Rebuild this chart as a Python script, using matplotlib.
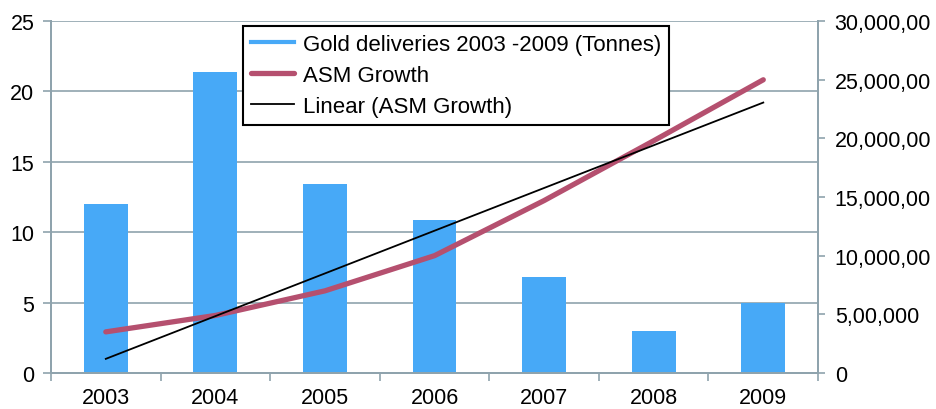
import numpy as np
import matplotlib.pyplot as plt
import matplotlib.lines as mlines
from matplotlib.ticker import FixedLocator

# values
years = ['2003', '2004', '2005', '2006', '2007', '2008', '2009']
gold_tonnes = [12.0, 21.4, 13.4, 10.9, 6.8, 3.0, 5.0]
asm_growth = [350000, 490000, 700000, 1000000, 1470000, 1980000, 2500000]
right_ticks = [0, 500000, 1000000, 1500000, 2000000, 2500000, 3000000]
right_labels = ['0', '5,00,000', '10,000,00', '15,000,00', '20,000,00',
                '25,000,00', '30,000,00']

plt.rcParams['font.family'] = ['Liberation Sans', 'DejaVu Sans']

bar_color = '#47a9f7'
asm_color = '#b5506f'
axis_color = '#8fa3ad'


def main():
    fig = plt.figure(figsize=(9.36, 4.10), dpi=100)
    ax = fig.add_axes([0.0545, 0.088, 0.8195, 0.858])
    ax2 = ax.twinx()

    x = np.arange(len(years))
    ax.bar(x, gold_tonnes, width=0.4, color=bar_color, zorder=2,
           label='Gold deliveries 2003 -2009 (Tonnes)')

    # linear trend of the ASM series, as Excel would add it
    slope, intercept = np.polyfit(x, asm_growth, 1)
    trend = slope * x + intercept
    ax2.plot(x, asm_growth, color=asm_color, lw=3.8, solid_capstyle='round',
             solid_joinstyle='round', label='ASM Growth', zorder=3)
    ax2.plot(x, trend, color='black', lw=1.3, label='Linear (ASM Growth)',
             zorder=4)

    ax.set_xlim(-0.5, len(years) - 0.5)
    ax.set_ylim(0, 25)
    ax.set_yticks([0, 5, 10, 15, 20, 25])
    ax2.set_ylim(0, 3000000)
    ax2.set_yticks(right_ticks)
    ax2.set_yticklabels(right_labels)

    ax.set_xticks(x)
    ax.set_xticklabels(years)
    ax.xaxis.set_minor_locator(FixedLocator(np.arange(-0.5, len(years), 1.0)))
    ax.tick_params(axis='x', which='major', length=0, pad=10, labelsize=15.5)
    ax.tick_params(axis='x', which='minor', length=6, width=1.2,
                   color=axis_color)
    ax.tick_params(axis='y', length=6, width=1.2, color=axis_color,
                   labelsize=15.5, pad=6)
    ax2.tick_params(axis='y', length=5, width=1.2, color=axis_color,
                    labelsize=15.5, pad=7)

    ax.grid(axis='y', color=axis_color, lw=1.2, zorder=0)
    ax.set_axisbelow(True)
    for a in (ax, ax2):
        a.spines['top'].set_visible(False)
        for s in ('left', 'right', 'bottom'):
            a.spines[s].set_color(axis_color)
            a.spines[s].set_linewidth(1.4)

    h1, l1 = ax.get_legend_handles_labels()
    h2, l2 = ax2.get_legend_handles_labels()
    gold_handle = mlines.Line2D([], [], color=bar_color, lw=3)
    leg = ax2.legend([gold_handle] + h2, l1 + l2, loc='upper left',
                     bbox_to_anchor=(0.2503, 0.986), fontsize=16,
                     frameon=True, fancybox=False, handlelength=1.95,
                     handletextpad=0.4, borderpad=0.35, labelspacing=0.45,
                     borderaxespad=0)
    leg.get_frame().set_edgecolor('black')
    leg.get_frame().set_linewidth(1.5)
    leg.get_frame().set_alpha(1)

    fig.savefig('out.png', dpi=100)


if __name__ == "__main__":
    main()
